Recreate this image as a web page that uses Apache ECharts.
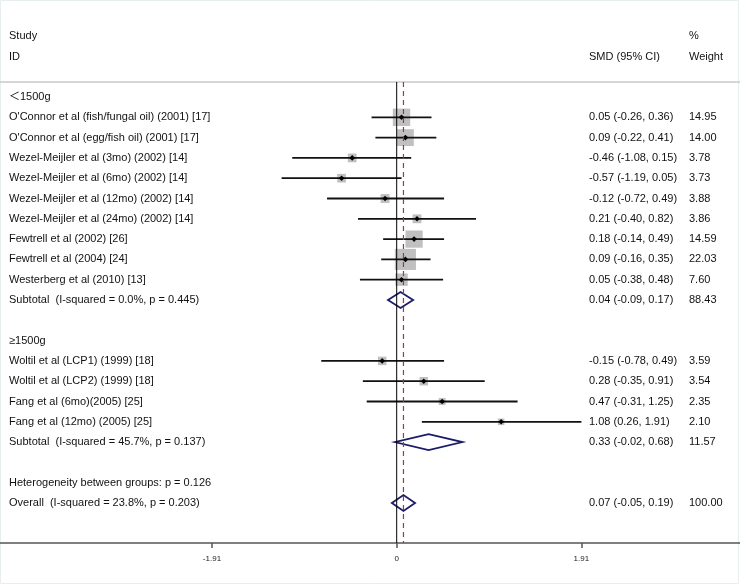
<!DOCTYPE html>
<html>
<head>
<meta charset="utf-8">
<script src="https://cdn.jsdelivr.net/npm/echarts@6/dist/echarts.min.js"></script>
<style>html,body{margin:0;padding:0;background:#fff}#c{width:740px;height:585px}</style>
</head>
<body>
<div id="c"></div>
<script>
// ---- data ----
const rowLabels = [
  '＜1500g',
  "O'Connor et al (fish/fungal oil) (2001) [17]",
  "O'Connor et al (egg/fish oil) (2001) [17]",
  'Wezel-Meijler et al (3mo) (2002) [14]',
  'Wezel-Meijler et al (6mo) (2002) [14]',
  'Wezel-Meijler et al (12mo) (2002) [14]',
  'Wezel-Meijler et al (24mo) (2002) [14]',
  'Fewtrell et al (2002) [26]',
  'Fewtrell et al (2004) [24]',
  'Westerberg et al (2010) [13]',
  'Subtotal  (I-squared = 0.0%, p = 0.445)',
  '',
  '≥1500g',
  'Woltil et al (LCP1) (1999) [18]',
  'Woltil et al (LCP2) (1999) [18]',
  'Fang et al (6mo)(2005) [25]',
  'Fang et al (12mo) (2005) [25]',
  'Subtotal  (I-squared = 45.7%, p = 0.137)',
  '',
  'Heterogeneity between groups: p = 0.126',
  'Overall  (I-squared = 23.8%, p = 0.203)'
];
const rowKinds = ['label','study','study','study','study','study','study','study','study','study','pooled',
  'blank','label','study','study','study','study','pooled','blank','label','pooled'];
const smd    = [null, 0.05, 0.09, -0.46, -0.57, -0.12, 0.21, 0.18, 0.09, 0.05, 0.04, null, null, -0.15, 0.28, 0.47, 1.08, 0.33, null, null, 0.07];
const ciLow  = [null, -0.26, -0.22, -1.08, -1.19, -0.72, -0.40, -0.14, -0.16, -0.38, -0.09, null, null, -0.78, -0.35, -0.31, 0.26, -0.02, null, null, -0.05];
const ciHigh = [null, 0.36, 0.41, 0.15, 0.05, 0.49, 0.82, 0.49, 0.35, 0.48, 0.17, null, null, 0.49, 0.91, 1.25, 1.91, 0.68, null, null, 0.19];
const weights = [null, 14.95, 14.00, 3.78, 3.73, 3.88, 3.86, 14.59, 22.03, 7.60, 88.43, null, null, 3.59, 3.54, 2.35, 2.10, 11.57, null, null, 100.00];
const tickValues = [-1.91, 0, 1.91];
const nullEffect = 0;
const overallEffect = 0.07;
const headerLeft = ['Study', 'ID'];
const headerMid = 'SMD (95% CI)';
const headerRight = ['%', 'Weight'];

// ---- chart ----
const FONT = '11px "Liberation Sans", Arial, "Noto Sans CJK SC", sans-serif';
const TXT = '#111';
const chart = echarts.init(document.getElementById('c'), null, {renderer: 'canvas'});

function fmt(v) { return v.toFixed(2); }

const data = rowLabels.map((_, i) => [i, smd[i] == null ? 0 : smd[i]]);

const option = {
  animation: false,
  backgroundColor: '#fff',
  grid: {left: 0, right: 0, top: 82, bottom: 42},
  xAxis: {
    type: 'value', min: -4.102, max: 3.550,
    axisLine: {show: true, onZero: false, lineStyle: {color: '#555', width: 1.5}},
    axisTick: {show: true, customValues: tickValues, length: 5, lineStyle: {color: '#555', width: 1.5}},
    axisLabel: {show: true, customValues: tickValues, fontSize: 8, color: '#222', margin: 12,
      fontFamily: '"Liberation Sans", Arial, sans-serif',
      formatter: v => (Math.abs(v) < 1e-9 ? '0' : String(v))},
    splitLine: {show: false}
  },
  yAxis: {type: 'value', inverse: true, min: -0.739, max: 21.97, show: false},
  graphic: [
    {type: 'rect', shape: {x: 0.5, y: 0.5, width: 738, height: 583}, style: {fill: 'none', stroke: '#e6eef0', lineWidth: 1}, silent: true},
    {type: 'line', shape: {x1: 0, y1: 82, x2: 740, y2: 82}, style: {stroke: '#c8c8c8', lineWidth: 1.5}, silent: true},
    {type: 'text', left: 9, top: 30, style: {text: headerLeft[0], font: FONT, fill: TXT}},
    {type: 'text', left: 9, top: 51, style: {text: headerLeft[1], font: FONT, fill: TXT}},
    {type: 'text', left: 589, top: 51, style: {text: headerMid, font: FONT, fill: TXT}},
    {type: 'text', left: 689, top: 30, style: {text: headerRight[0], font: FONT, fill: TXT}},
    {type: 'text', left: 689, top: 51, style: {text: headerRight[1], font: FONT, fill: TXT}}
  ],
  series: [{
    type: 'custom',
    coordinateSystem: 'cartesian2d',
    data: data,
    encode: {x: 1, y: 0},
    clip: false,
    z: 2,
    renderItem: function (params, api) {
      const i = params.dataIndex;
      const kind = rowKinds[i];
      const y = api.coord([0, i])[1];
      const children = [];
      if (kind === 'study') {
        const c = api.coord([smd[i], i]);
        const l = api.coord([ciLow[i], i]);
        const h = api.coord([ciHigh[i], i]);
        const side = 4.5 * Math.sqrt(weights[i]);
        children.push({type: 'rect', shape: {x: c[0] - side / 2, y: y - side / 2, width: side, height: side},
          style: {fill: '#c0c0c0'}});
        children.push({type: 'line', shape: {x1: l[0], y1: y, x2: h[0], y2: y},
          style: {stroke: '#111', lineWidth: 1.8}});
        children.push({type: 'polygon', shape: {points: [[c[0] - 2.8, y], [c[0], y - 2.8], [c[0] + 2.8, y], [c[0], y + 2.8]]},
          style: {fill: '#000'}});
      } else if (kind === 'pooled') {
        const c = api.coord([smd[i], i]);
        const l = api.coord([ciLow[i], i]);
        const h = api.coord([ciHigh[i], i]);
        children.push({type: 'polygon', z2: 5,
          shape: {points: [[l[0], y], [c[0], y - 8], [h[0], y], [c[0], y + 8]]},
          style: {fill: 'rgba(255,255,255,0)', stroke: '#1b1b6b', lineWidth: 1.8}});
      }
      if (rowLabels[i]) {
        children.push({type: 'text', style: {text: rowLabels[i], x: 9, y: y, align: 'left', verticalAlign: 'middle', font: FONT, fill: TXT}});
      }
      if (kind === 'study' || kind === 'pooled') {
        children.push({type: 'text', style: {text: fmt(smd[i]) + ' (' + fmt(ciLow[i]) + ', ' + fmt(ciHigh[i]) + ')',
          x: 589, y: y, align: 'left', verticalAlign: 'middle', font: FONT, fill: TXT}});
        children.push({type: 'text', style: {text: fmt(weights[i]), x: 689, y: y, align: 'left', verticalAlign: 'middle', font: FONT, fill: TXT}});
      }
      return {type: 'group', children: children};
    }
  }, {
    // reference lines: null effect (solid) and overall effect (dashed)
    type: 'custom',
    coordinateSystem: 'cartesian2d',
    data: [[nullEffect, 0], [overallEffect, 1]],
    encode: {x: 0},
    clip: false,
    z: 5,
    renderItem: function (params, api) {
      const cs = params.coordSys;
      const x = api.coord([api.value(0), 0])[0];
      const dashed = api.value(1) === 1;
      return {type: 'line',
        shape: {x1: x, y1: cs.y, x2: x, y2: cs.y + cs.height},
        style: dashed ? {stroke: '#b0303c', lineWidth: 1.2, lineDash: [5, 4]}
                      : {stroke: '#000', lineWidth: 1}};
    }
  }]
};
chart.setOption(option);
</script>
</body>
</html>
